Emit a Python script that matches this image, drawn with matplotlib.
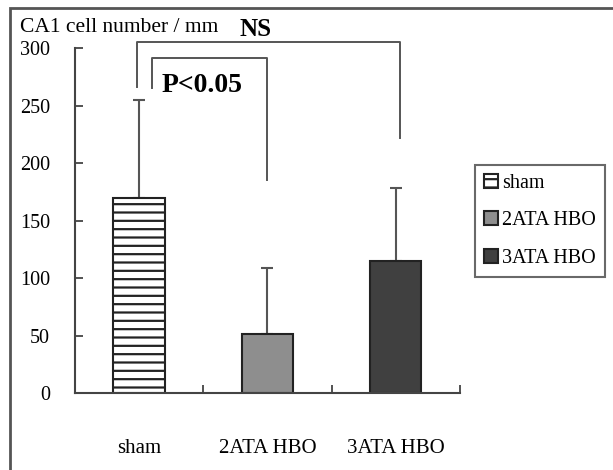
import numpy as np
import matplotlib
matplotlib.use('Agg')
import matplotlib.pyplot as plt
import matplotlib.patches as patches

plt.rcParams['font.family'] = ['Liberation Serif', 'DejaVu Serif']
plt.rcParams['hatch.linewidth'] = 1.6
plt.rcParams['hatch.color'] = '#333333'

# data
groups = ['sham', '2ATA HBO', '3ATA HBO']
means = [170, 51, 115]
sd_up = [85, 58, 63]
bar_colors = ['white', '#8e8e8e', '#404040']
bar_hatch = ['--', None, None]

# significance brackets: (x left, x right, y top, y left end, y right end)
ns_bracket = (-0.02, 2.03, 305, 266, 222)
p_bracket = (0.10, 1.00, 291, 265, 185)

fig = plt.figure(figsize=(6.13, 4.70), dpi=100)
ax = fig.add_axes([0.1223, 0.1638, 0.628, 0.734])

x = np.arange(len(groups))
bars = ax.bar(x, means, width=0.4, color=bar_colors, edgecolor='#222222',
              linewidth=1.5, zorder=2)
for b, h in zip(bars, bar_hatch):
    if h:
        b.set_hatch(h)
ax.errorbar(x, means, yerr=[np.zeros(3), sd_up], fmt='none', ecolor='#555555',
            elinewidth=1.5, capsize=4, capthick=1.5, zorder=1)

def bracket(xl, xr, ytop, yl, yr):
    ax.plot([xl, xl, xr, xr], [yl, ytop, ytop, yr], color='#555555', lw=1.4,
            clip_on=False, zorder=3)

bracket(*ns_bracket)
bracket(*p_bracket)

ax.set_xlim(-0.5, 2.5)
ax.set_ylim(0, 300)
ax.set_yticks(np.arange(0, 301, 50))
ax.set_xticks(x)
ax.set_xticklabels(groups)
ax.set_xticks([0.5, 1.5, 2.5], minor=True)
ax.tick_params(axis='y', direction='in', length=6, width=1.3, color='#444444',
               labelsize=14.5, pad=18)
ax.tick_params(axis='x', which='major', length=0, labelsize=15, pad=33)
ax.tick_params(axis='x', which='minor', direction='in', length=6, width=1.3,
               color='#444444')
for s in ['top', 'right']:
    ax.spines[s].set_visible(False)
for s in ['left', 'bottom']:
    ax.spines[s].set_color('#444444')
    ax.spines[s].set_linewidth(1.5)

fig.text(20 / 613, 1 - 27 / 470, 'CA1 cell number / mm', fontsize=15.5,
         va='center', ha='left')
fig.text(240 / 613, 1 - 29 / 470, 'NS', fontsize=18, fontweight='bold',
         va='center', ha='left')
fig.text(162 / 613, 1 - 86 / 470, 'P<0.05', fontsize=20, fontweight='bold',
         va='center', ha='left')

leg = ax.legend(bars, groups, loc='upper left', bbox_to_anchor=(475 / 613, 1 - 165 / 470),
                bbox_transform=fig.transFigure, fontsize=14.5, frameon=True,
                fancybox=False, edgecolor='#444444', handlelength=0.7,
                handleheight=0.7, handletextpad=0.2, labelspacing=0.9,
                borderpad=0.45, borderaxespad=0)
leg.get_frame().set_linewidth(1.5)

# outer frame of the figure panel
fig.patches.append(patches.Rectangle((10 / 613, -0.1), 1.2, 1 - 8 / 470 + 0.1,
                                     transform=fig.transFigure, fill=False,
                                     edgecolor='#555555', linewidth=2))

fig.savefig('out.png', dpi=100)
